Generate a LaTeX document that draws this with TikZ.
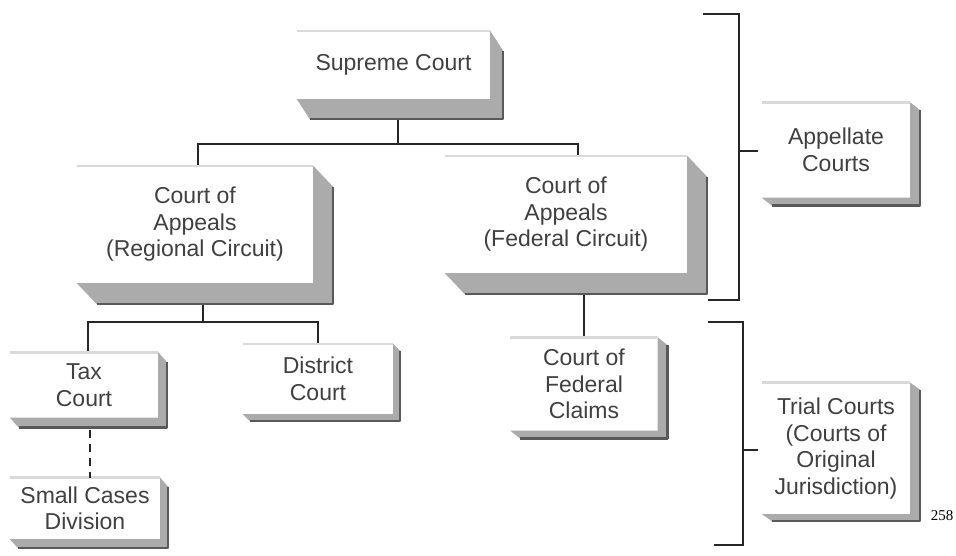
\documentclass[tikz,border=0pt]{standalone}
\usepackage{fontspec}
\setmainfont{Liberation Sans}
\newfontfamily\pagefont{Liberation Serif}
\usetikzlibrary{positioning,backgrounds}

\begin{document}
\begin{tikzpicture}[x=1pt,y=-1pt,
		court/.style={fill=white,inner sep=0pt,align=center,text=black!75,font=\fontsize{23}{26.5}\selectfont},
		bevel/.style={fill=black!33},
		rim/.style={draw=black!65,line width=2.5pt,line join=round},
		topline/.style={draw=black!15,line width=2.5pt},
		link/.style={draw=black!85,line width=1.6pt}]
	\useasboundingbox (0,0) rectangle (956,555);
	\node[court,minimum width=193pt,minimum height=68pt]		(sup)	at (393.5,65)	{Supreme Court};
	\node[court,minimum width=236pt,minimum height=117pt]	(rca)	at (195,224.5)	{Court of\\Appeals\\(Regional Circuit)};
	\node[court,minimum width=242pt,minimum height=117pt]	(fca)	at (566,214.5)	{Court of\\Appeals\\(Federal Circuit)};
	\node[court,minimum width=148pt,minimum height=65pt]		(tax)	at (84,385)	{Tax\\Court};
	\node[court,minimum width=150pt,minimum height=61pt,below=60pt of tax,xshift=1pt]	(small)	{Small Cases\\Division};
	\node[court,minimum width=150pt,minimum height=70pt]		(dist)	at (318,379)	{District\\Court};
	\node[court,minimum width=147pt,minimum height=93pt]		(cfc)	at (584,384)	{Court of\\Federal\\Claims};
	\node[court,minimum width=148pt,minimum height=95pt]		(app)	at (836,150)	{Appellate\\Courts};
	\node[court,minimum width=148pt,minimum height=131pt,below=185pt of app]	(trial)	{Trial Courts\\(Courts of\\Original\\Jurisdiction)};
	\node[font=\pagefont\fontsize{15}{18}\selectfont,inner sep=0pt]	(pg)	at (942,516)	{258};

	\foreach \n/\dx/\dy in {sup/13/20,rca/20/21,fca/20/21,tax/9/10,small/8/9,dist/7/7,cfc/10/8,app/10/8,trial/10/7}{
		\fill[bevel] (\n.north east) -- ([shift={(\dx,\dy)}]\n.north east) -- ([shift={(\dx,\dy)}]\n.south east)
			-- ([shift={(\dx,\dy)}]\n.south west) -- (\n.south west) -- (\n.south east) -- cycle;
		\draw[rim] ([shift={(\dx,\dy)}]\n.north east) -- ([shift={(\dx,\dy)}]\n.south east) -- ([shift={(\dx,\dy)}]\n.south west);
		\draw[topline] (\n.north west) -- (\n.north east);
	}

	\coordinate (j1) at (398,144);
	\coordinate (j2) at (203,322);
	\coordinate (a1) at (703,14);
	\coordinate (a2) at (739,151);
	\coordinate (a3) at (708,300);
	\coordinate (t1) at (708,322);
	\coordinate (t2) at (743,450);
	\coordinate (t3) at (714,545);

	\begin{scope}[on background layer]
		\fill[white] (0,0) rectangle (956,555);
		\draw[link] (j1) -- (j1 |- sup.center);
		\draw[link] ([xshift=3pt]rca.center) |- (j1) -| ([xshift=12pt]fca.center);
		\draw[link] (j2) -- (j2 |- rca.center);
		\draw[link] ([xshift=4pt]tax.center) |- (j2) -| (dist.center);
		\draw[link] (cfc.center) -- (cfc.center |- fca.center);
	\end{scope}
	\draw[link,dash pattern=on 8pt off 6pt] ([xshift=6pt,yshift=-12pt]tax.south) -- ([xshift=5pt]small.north);

	\draw[link] (a1) -| (a2) |- (a3);
	\draw[link] (t1) -| (t2) |- (t3);
	\draw[link,shorten >=4pt] (a2) -- (a2 -| app.west);
	\draw[link,shorten >=4pt] (t2) -- (t2 -| trial.west);
\end{tikzpicture}
\end{document}
